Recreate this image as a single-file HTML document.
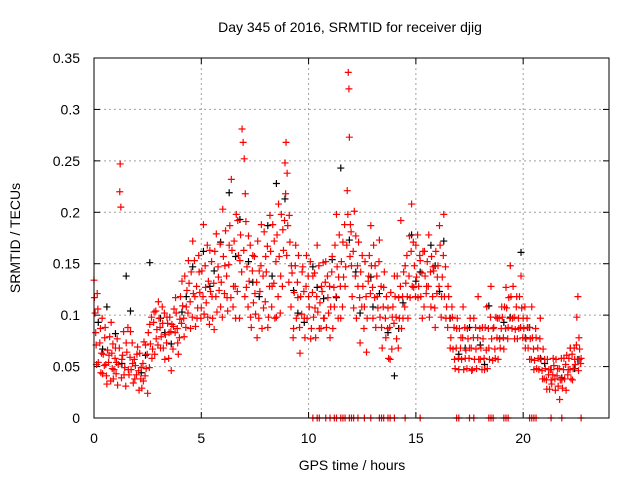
<!DOCTYPE html>
<html><head><meta charset="utf-8"><style>
body{margin:0;background:#fff;}
svg{display:block;font-family:"Liberation Sans",sans-serif;}
</style></head><body>
<svg id="chart" width="640" height="480">
<rect x="0" y="0" width="640" height="480" fill="#fff"/>
<text x="350" y="32" font-size="14" text-anchor="middle">Day 345 of 2016, SRMTID for receiver djig</text>
<text x="352" y="470" font-size="14" text-anchor="middle">GPS time / hours</text>
<text transform="translate(20,238) rotate(-90)" font-size="14" text-anchor="middle">SRMTID / TECUs</text>
<g id="grid"></g><g id="ticks"></g><g id="marks"></g>
<rect x="94" y="58" width="515" height="360" fill="none" stroke="#000" stroke-width="1"/>
</svg>
<script>
const xTicks=[0,5,10,15,20];
const yTicks=[0,0.05,0.1,0.15,0.2,0.25,0.3,0.35];
const yTickLabels=["0","0.05","0.1","0.15","0.2","0.25","0.3","0.35"];
const blackSeries=[[0.2,0.093],[0.6,0.108],[1.0,0.082],[1.5,0.138],[1.7,0.104],[2.2,0.044],[2.6,0.151],[3.1,0.097],[3.6,0.072],[4.1,0.103],[4.6,0.147],[5.1,0.162],[5.4,0.128],[5.9,0.171],[6.3,0.219],[6.8,0.193],[7.2,0.152],[7.7,0.118],[8.1,0.187],[8.5,0.228],[8.9,0.213],[9.3,0.124],[9.8,0.093],[10.2,0.147],[10.7,0.116],[11.1,0.154],[11.5,0.243],[11.9,0.173],[12.4,0.102],[12.9,0.137],[13.3,0.121],[13.7,0.083],[14.0,0.041],[14.4,0.112],[14.8,0.178],[15.2,0.142],[15.7,0.168],[16.1,0.123],[16.6,0.097],[17.0,0.062],[17.5,0.088],[18.0,0.071],[18.4,0.109],[18.9,0.077],[19.4,0.098],[19.9,0.161],[20.3,0.088],[20.8,0.058],[21.3,0.047],[21.8,0.039],[22.2,0.068],[22.6,0.057],[0.4,0.067],[1.3,0.053],[2.4,0.061],[3.3,0.083],[4.3,0.118],[5.6,0.143],[6.6,0.157],[7.4,0.132],[8.3,0.138],[9.5,0.102],[10.4,0.127],[11.3,0.117],[12.2,0.142],[13.0,0.108],[14.2,0.087],[15.0,0.133],[15.9,0.148],[16.3,0.172],[17.3,0.068],[18.2,0.052],[19.1,0.093],[20.1,0.078],[21.0,0.053],[22.4,0.048]];
const redSeries=[[0.0,0.134],[0.05,0.102],[0.1,0.071],[0.15,0.121],[0.2,0.054],[0.3,0.087],[0.35,0.063],[0.4,0.043],[0.5,0.078],[0.55,0.052],[0.6,0.033],[0.7,0.061],[0.8,0.093],[0.85,0.048],[0.9,0.038],[1.0,0.068],[1.05,0.054],[1.1,0.032],[1.2,0.22],[1.22,0.247],[1.25,0.205],[1.3,0.057],[1.4,0.042],[1.5,0.073],[1.6,0.047],[1.7,0.084],[1.8,0.053],[1.9,0.038],[2.0,0.062],[2.1,0.027],[2.2,0.049],[2.3,0.036],[2.4,0.071],[2.5,0.024],[2.6,0.091],[2.7,0.058],[2.8,0.103],[2.9,0.077],[3.0,0.113],[3.1,0.068],[3.2,0.092],[3.3,0.057],[3.4,0.098],[3.5,0.083],[3.6,0.046],[3.7,0.089],[3.8,0.117],[3.9,0.073],[4.0,0.096],[4.1,0.133],[4.2,0.079],[4.3,0.108],[4.4,0.153],[4.5,0.087],[4.6,0.172],[4.7,0.118],[4.8,0.097],[4.9,0.142],[5.0,0.107],[5.1,0.188],[5.2,0.127],[5.3,0.098],[5.4,0.163],[5.5,0.118],[5.6,0.086],[5.7,0.179],[5.8,0.137],[5.9,0.108],[6.0,0.203],[6.1,0.148],[6.2,0.117],[6.3,0.168],[6.4,0.232],[6.5,0.128],[6.6,0.097],[6.7,0.192],[6.8,0.153],[6.9,0.281],[6.95,0.268],[7.0,0.252],[7.05,0.218],[7.1,0.127],[7.2,0.177],[7.3,0.098],[7.4,0.158],[7.5,0.121],[7.6,0.078],[7.7,0.143],[7.8,0.188],[7.9,0.107],[8.0,0.157],[8.1,0.088],[8.2,0.197],[8.3,0.128],[8.4,0.172],[8.5,0.098],[8.6,0.208],[8.7,0.138],[8.8,0.183],[8.9,0.248],[8.95,0.268],[9.0,0.238],[9.1,0.197],[9.2,0.148],[9.3,0.087],[9.4,0.168],[9.5,0.117],[9.6,0.063],[9.7,0.142],[9.8,0.097],[9.9,0.158],[10.0,0.118],[10.1,0.077],[10.2,0.138],[10.3,0.107],[10.4,0.168],[10.5,0.087],[10.6,0.128],[10.7,0.097],[10.8,0.152],[10.9,0.117],[11.0,0.078],[11.1,0.157],[11.2,0.108],[11.3,0.198],[11.4,0.137],[11.5,0.097],[11.6,0.171],[11.7,0.128],[11.8,0.221],[11.85,0.336],[11.88,0.32],[11.9,0.273],[11.95,0.188],[12.0,0.148],[12.1,0.107],[12.2,0.177],[12.3,0.128],[12.4,0.073],[12.5,0.158],[12.6,0.108],[12.7,0.064],[12.8,0.138],[12.9,0.187],[13.0,0.097],[13.1,0.148],[13.2,0.118],[13.3,0.173],[13.4,0.088],[13.5,0.127],[13.6,0.078],[13.7,0.107],[13.8,0.057],[13.9,0.098],[14.0,0.138],[14.1,0.077],[14.2,0.117],[14.3,0.192],[14.4,0.097],[14.5,0.148],[14.6,0.118],[14.7,0.177],[14.8,0.208],[14.9,0.127],[15.0,0.168],[15.1,0.117],[15.2,0.153],[15.3,0.097],[15.4,0.162],[15.5,0.128],[15.6,0.178],[15.7,0.108],[15.8,0.147],[15.9,0.088],[16.0,0.137],[16.1,0.187],[16.2,0.118],[16.3,0.198],[16.4,0.097],[16.5,0.128],[16.6,0.068],[16.7,0.098],[16.8,0.057],[16.9,0.087],[17.0,0.047],[17.1,0.078],[17.2,0.108],[17.3,0.058],[17.4,0.087],[17.5,0.068],[17.6,0.046],[17.7,0.097],[17.8,0.067],[17.9,0.118],[18.0,0.057],[18.1,0.088],[18.2,0.047],[18.3,0.108],[18.4,0.068],[18.5,0.128],[18.6,0.087],[18.7,0.058],[18.8,0.097],[18.9,0.077],[19.0,0.108],[19.1,0.067],[19.2,0.127],[19.3,0.088],[19.4,0.148],[19.5,0.097],[19.6,0.077],[19.7,0.118],[19.8,0.087],[19.9,0.138],[20.0,0.097],[20.1,0.068],[20.2,0.088],[20.3,0.057],[20.4,0.108],[20.5,0.047],[20.6,0.078],[20.7,0.058],[20.8,0.097],[20.9,0.038],[21.0,0.057],[21.1,0.028],[21.2,0.047],[21.3,0.037],[21.4,0.058],[21.5,0.027],[21.6,0.048],[21.7,0.018],[21.8,0.037],[21.9,0.058],[22.0,0.027],[22.1,0.047],[22.2,0.068],[22.3,0.037],[22.4,0.057],[22.5,0.098],[22.55,0.118],[22.6,0.078],[22.7,0.058]];
const redDense=[0.02,0.117,0.08,0.083,0.12,0.052,0.18,0.106,0.27,0.073,0.32,0.044,0.38,0.097,0.43,0.062,0.48,0.051,0.52,0.088,0.58,0.041,0.63,0.066,0.68,0.054,0.73,0.079,0.78,0.036,0.83,0.063,0.88,0.072,0.93,0.047,0.98,0.058,1.03,0.043,1.08,0.077,1.13,0.052,1.18,0.068,1.28,0.039,1.33,0.061,1.38,0.084,1.43,0.049,1.48,0.031,1.53,0.064,1.58,0.088,1.63,0.042,1.68,0.059,1.73,0.047,1.78,0.073,1.83,0.034,1.88,0.057,1.93,0.051,1.98,0.042,2.03,0.069,2.08,0.046,2.13,0.063,2.18,0.038,2.23,0.029,2.28,0.053,2.33,0.074,2.38,0.041,2.43,0.048,2.48,0.062,2.53,0.083,2.58,0.049,2.63,0.072,2.68,0.098,2.73,0.067,2.78,0.093,2.83,0.062,2.88,0.104,2.93,0.086,2.98,0.071,3.03,0.097,3.08,0.088,3.13,0.079,3.18,0.108,3.23,0.068,3.28,0.102,3.33,0.081,3.38,0.073,3.43,0.092,3.48,0.058,3.53,0.098,3.58,0.084,3.63,0.091,3.68,0.067,3.73,0.106,3.78,0.083,3.83,0.102,3.88,0.087,3.93,0.062,3.98,0.078,4.03,0.118,4.08,0.092,4.13,0.109,4.18,0.097,4.23,0.138,4.28,0.088,4.33,0.124,4.38,0.102,4.43,0.131,4.48,0.113,4.53,0.142,4.58,0.098,4.63,0.121,4.68,0.153,4.73,0.089,4.78,0.128,4.83,0.107,4.88,0.158,4.93,0.122,4.98,0.097,5.03,0.143,5.08,0.118,5.13,0.101,5.18,0.148,5.23,0.112,5.28,0.168,5.33,0.133,5.38,0.091,5.43,0.123,5.48,0.152,5.53,0.097,5.58,0.131,5.63,0.162,5.68,0.118,5.73,0.103,5.78,0.147,5.83,0.124,5.88,0.169,5.93,0.132,5.98,0.098,6.03,0.157,6.08,0.121,6.13,0.182,6.18,0.138,6.23,0.104,6.28,0.149,6.33,0.187,6.38,0.117,6.43,0.163,6.48,0.108,6.53,0.172,6.58,0.128,6.63,0.198,6.68,0.123,6.73,0.158,6.78,0.097,6.83,0.178,6.88,0.142,6.98,0.163,7.03,0.118,7.08,0.191,7.13,0.147,7.18,0.108,7.23,0.133,7.28,0.168,7.33,0.088,7.38,0.143,7.43,0.112,7.48,0.157,7.53,0.101,7.58,0.132,7.63,0.172,7.68,0.097,7.73,0.123,7.78,0.148,7.83,0.087,7.88,0.138,7.93,0.181,7.98,0.113,8.03,0.142,8.08,0.167,8.13,0.098,8.18,0.128,8.23,0.162,8.28,0.108,8.33,0.188,8.38,0.131,8.43,0.097,8.48,0.152,8.53,0.178,8.58,0.118,8.63,0.157,8.68,0.102,8.73,0.198,8.78,0.128,8.83,0.163,8.88,0.192,8.93,0.218,8.98,0.158,9.03,0.187,9.08,0.132,9.13,0.171,9.18,0.108,9.23,0.141,9.28,0.078,9.33,0.122,9.38,0.148,9.43,0.097,9.48,0.132,9.53,0.158,9.58,0.088,9.63,0.118,9.68,0.101,9.73,0.147,9.78,0.123,9.83,0.078,9.88,0.128,9.93,0.097,9.98,0.138,10.03,0.108,10.08,0.152,10.13,0.087,10.18,0.122,10.23,0.098,10.28,0.141,10.33,0.078,10.38,0.118,10.43,0.103,10.48,0.148,10.53,0.112,10.58,0.087,10.63,0.123,10.68,0.151,10.73,0.097,10.78,0.132,10.83,0.088,10.88,0.138,10.93,0.102,10.98,0.128,11.03,0.108,11.08,0.142,11.13,0.087,11.18,0.127,11.23,0.168,11.28,0.118,11.33,0.147,11.38,0.097,11.43,0.178,11.48,0.128,11.53,0.152,11.58,0.108,11.63,0.137,11.68,0.188,11.73,0.147,11.78,0.168,11.83,0.198,11.93,0.157,11.98,0.181,12.03,0.118,12.08,0.162,12.13,0.201,12.18,0.138,12.23,0.097,12.28,0.148,12.33,0.171,12.38,0.117,12.43,0.142,12.48,0.108,12.53,0.128,12.58,0.087,12.63,0.152,12.68,0.118,12.73,0.097,12.78,0.133,12.83,0.158,12.88,0.121,12.93,0.148,12.98,0.127,13.03,0.168,13.08,0.117,13.13,0.088,13.18,0.138,13.23,0.107,13.28,0.152,13.33,0.098,13.38,0.128,13.43,0.068,13.48,0.108,13.53,0.142,13.58,0.097,13.63,0.118,13.68,0.087,13.73,0.058,13.78,0.088,13.83,0.122,13.88,0.067,13.93,0.108,13.98,0.092,14.03,0.118,14.08,0.098,14.13,0.138,14.18,0.068,14.23,0.097,14.28,0.128,14.33,0.087,14.38,0.118,14.43,0.142,14.48,0.108,14.53,0.131,14.58,0.158,14.63,0.097,14.68,0.138,14.73,0.117,14.78,0.162,14.83,0.128,14.88,0.171,14.93,0.148,14.98,0.118,15.03,0.137,15.08,0.178,15.13,0.128,15.18,0.158,15.23,0.118,15.28,0.141,15.33,0.162,15.38,0.108,15.43,0.138,15.48,0.121,15.53,0.152,15.58,0.128,15.63,0.098,15.68,0.142,15.73,0.157,15.78,0.118,15.83,0.143,15.88,0.107,15.93,0.162,15.98,0.121,16.03,0.148,16.08,0.128,16.13,0.168,16.18,0.098,16.23,0.137,16.28,0.158,16.33,0.118,16.38,0.147,16.43,0.108,16.48,0.088,16.53,0.118,16.58,0.097,16.63,0.078,16.68,0.108,16.73,0.067,16.78,0.088,16.83,0.048,16.88,0.068,16.93,0.097,16.98,0.058,17.03,0.087,17.08,0.068,17.13,0.057,17.18,0.078,17.23,0.047,17.28,0.088,17.33,0.066,17.38,0.048,17.43,0.077,17.48,0.058,17.53,0.097,17.58,0.068,17.63,0.047,17.68,0.078,17.73,0.057,17.78,0.088,17.83,0.048,17.88,0.078,17.93,0.057,17.98,0.087,18.03,0.068,18.08,0.047,18.13,0.077,18.18,0.058,18.23,0.088,18.28,0.066,18.33,0.048,18.38,0.087,18.43,0.057,18.48,0.098,18.53,0.077,18.58,0.056,18.63,0.088,18.68,0.067,18.73,0.098,18.78,0.078,18.83,0.057,18.88,0.097,18.93,0.068,18.98,0.087,19.03,0.098,19.08,0.078,19.13,0.108,19.18,0.087,19.23,0.107,19.28,0.077,19.33,0.117,19.38,0.097,19.43,0.118,19.48,0.087,19.53,0.128,19.58,0.098,19.63,0.086,19.68,0.108,19.73,0.077,19.78,0.097,19.83,0.118,19.88,0.088,19.93,0.107,19.98,0.078,20.03,0.087,20.08,0.108,20.13,0.077,20.18,0.097,20.23,0.068,20.28,0.088,20.33,0.077,20.38,0.057,20.43,0.078,20.48,0.067,20.53,0.056,20.58,0.087,20.63,0.048,20.68,0.068,20.73,0.047,20.78,0.077,20.83,0.057,20.88,0.046,20.93,0.067,20.98,0.038,21.03,0.048,21.08,0.037,21.13,0.057,21.18,0.042,21.23,0.028,21.28,0.047,21.33,0.033,21.38,0.042,21.43,0.051,21.48,0.038,21.53,0.057,21.58,0.041,21.63,0.031,21.68,0.048,21.73,0.037,21.78,0.058,21.83,0.029,21.88,0.047,21.93,0.038,21.98,0.052,22.03,0.061,22.08,0.042,22.13,0.058,22.18,0.047,22.23,0.038,22.28,0.062,22.33,0.048,22.38,0.068,22.43,0.052,22.48,0.071,22.53,0.057,22.58,0.046,22.63,0.067,22.68,0.053];
const zeroHours=[10.2,10.4,10.5,10.8,11.0,11.2,11.3,11.5,11.6,11.7,11.9,12.0,12.1,12.3,12.6,12.9,13.3,13.4,13.5,13.7,13.8,14.0,14.5,15.2,16.9,17.0,17.5,17.7,18.4,18.5,18.6,19.1,19.2,19.3,20.3,20.4,20.5,20.6,21.3,21.8,22.7];
const X=t=>94+t*(515/24), Y=v=>418-v*(360/0.35);
const NS="http://www.w3.org/2000/svg";
const grid=document.getElementById('grid'),ticks=document.getElementById('ticks'),marks=document.getElementById('marks');
function mk(tag,a,p){const e=document.createElementNS(NS,tag);for(const k in a)e.setAttribute(k,a[k]);p.appendChild(e);return e;}
xTicks.forEach(t=>{
  if(t>0){const g=mk('line',{x1:X(t),x2:X(t),y1:58,y2:418,stroke:'#a0a0a0','stroke-dasharray':'2,3'},grid);
  
  }
  mk('line',{x1:X(t),x2:X(t),y1:418,y2:412,stroke:'#000'},ticks);
  mk('line',{x1:X(t),x2:X(t),y1:58,y2:64,stroke:'#000'},ticks);
  const l=mk('text',{x:X(t),y:443,'font-size':14,'text-anchor':'middle'},ticks);l.textContent=t;
  
  
});
yTicks.forEach((v,i)=>{
  if(v>0&&v<0.35){const g=mk('line',{x1:94,x2:609,y1:Y(v),y2:Y(v),stroke:'#a0a0a0','stroke-dasharray':'2,3'},grid);
  
  }
  mk('line',{x1:94,x2:100,y1:Y(v),y2:Y(v),stroke:'#000'},ticks);
  mk('line',{x1:603,x2:609,y1:Y(v),y2:Y(v),stroke:'#000'},ticks);
  const l=mk('text',{x:80,y:Y(v)+5,'font-size':14,'text-anchor':'end'},ticks);l.textContent=yTickLabels[i];
  
  
});
function plus(t,v,c,name){
  const x=X(t),y=Y(v);
  const p=mk('path',{d:`M${x-3.5},${y}H${x+3.5}M${x},${y-3.5}V${y+3.5}`,stroke:c,'stroke-width':1.2,fill:'none'},marks);
  
  
}
blackSeries.forEach(d=>plus(d[0],d[1],'#000','black-point'));
redSeries.forEach(d=>plus(d[0],d[1],'#f00','red-point'));
for(let i=0;i<redDense.length;i+=2)plus(redDense[i],redDense[i+1],'#f00','red-point');
zeroHours.forEach(t=>plus(t,0,'#f00','zero-point'));
</script>
</body></html>
